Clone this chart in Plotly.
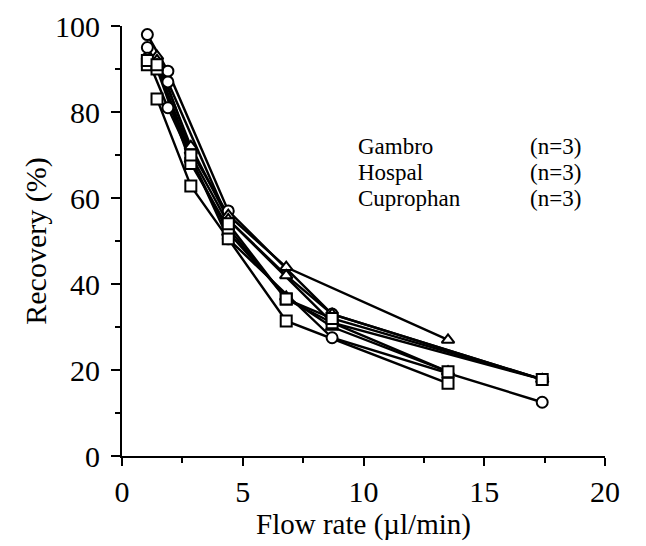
import plotly.graph_objects as go

# Gambro (circles)
gambro_x = [[1.05, 1.9, 4.4, 8.7, 17.4],
            [1.05, 1.9, 4.4, 8.7, 17.4],
            [1.05, 1.9, 4.4, 8.7, 17.4]]
gambro_y = [[98, 89.5, 57, 33, 17.8],
            [95, 87, 55, 31, 17.8],
            [92.5, 81, 50.5, 27.5, 12.5]]
# Hospal (triangles)
hospal_x = [[1.45, 2.85, 4.4, 6.8, 13.5],
            [1.45, 2.85, 4.4, 6.8, 8.7, 17.4],
            [1.45, 2.85, 4.4, 6.8, 8.7, 13.5]]
hospal_y = [[93, 71, 56, 43.9, 27],
            [92, 72, 55, 42, 33, 17.8],
            [91, 69, 52, 37, 30, 19.6]]
# Cuprophan (squares)
cupro_x = [[1.45, 2.85, 4.4, 6.8, 13.5],
           [1.05, 1.45, 2.85, 4.4, 6.8, 8.7, 13.5],
           [1.05, 1.45, 2.85, 4.4, 6.8, 8.7, 17.4]]
cupro_y = [[83, 62.8, 50.5, 31.4, 16.9],
           [91, 90, 68, 53, 36.5, 31, 19.6],
           [92, 91, 70, 54, 36.5, 32, 17.8]]

legend_names = ["Gambro", "Hospal", "Cuprophan"]
legend_n = ["(n=3)", "(n=3)", "(n=3)"]

x_ticks = [0, 5, 10, 15, 20]
y_ticks = [0, 20, 40, 60, 80, 100]

FONT = "Liberation Serif"
fig = go.Figure()

groups = [(gambro_x, gambro_y, "circle"),
          (hospal_x, hospal_y, "triangle-up"),
          (cupro_x, cupro_y, "square")]
for xs_list, ys_list, sym in groups:
    for xs, ys in zip(xs_list, ys_list):
        fig.add_trace(go.Scatter(
            x=xs, y=ys, mode="lines",
            line=dict(color="black", width=2.4),
            showlegend=False, hoverinfo="skip"))
for xs_list, ys_list, sym in groups:
    for xs, ys in zip(xs_list, ys_list):
        fig.add_trace(go.Scatter(
            x=xs, y=ys, mode="markers",
            marker=dict(symbol=sym, size=11, color="white",
                        line=dict(color="black", width=2)),
            showlegend=False))

label_y = [72.0, 66.0, 60.0]
for name, n, yy in zip(legend_names, legend_n, label_y):
    fig.add_annotation(x=9.7, y=yy, text=name, showarrow=False, xanchor="left",
                       yanchor="middle", font=dict(family=FONT, size=23, color="black"))
    fig.add_annotation(x=19.1, y=yy, text=n, showarrow=False, xanchor="right",
                       yanchor="middle", font=dict(family=FONT, size=23, color="black"))

fig.update_layout(
    width=646, height=546,
    margin=dict(l=114, r=49, t=18, b=98),
    plot_bgcolor="white", paper_bgcolor="white",
    font=dict(family=FONT, size=30, color="black"),
)
fig.update_xaxes(
    range=[0, 20], tickvals=x_ticks, showgrid=False, zeroline=False,
    automargin=False,
    showline=True, linecolor="black", linewidth=2,
    ticks="outside", ticklen=8, tickwidth=2, tickcolor="black",
    minor=dict(dtick=2.5, ticks="outside", ticklen=5, tickwidth=2, tickcolor="black", showgrid=False),
    title=dict(text="Flow rate (µl/min)", font=dict(family=FONT, size=29), standoff=0),
    tickfont=dict(family=FONT, size=30),
    ticklabelstandoff=0,
)
fig.update_yaxes(
    range=[0, 100], tickvals=y_ticks, showgrid=False, zeroline=False,
    automargin=False,
    showline=True, linecolor="black", linewidth=2,
    ticks="outside", ticklen=9, tickwidth=2, tickcolor="black",
    minor=dict(dtick=10, ticks="outside", ticklen=5, tickwidth=2, tickcolor="black", showgrid=False),
    title=dict(text="Recovery (%)", font=dict(family=FONT, size=30), standoff=0),
    tickfont=dict(family=FONT, size=30),
    ticklabelstandoff=5,
    ticklabeloverflow="allow",
)

fig.write_html("out.html")
